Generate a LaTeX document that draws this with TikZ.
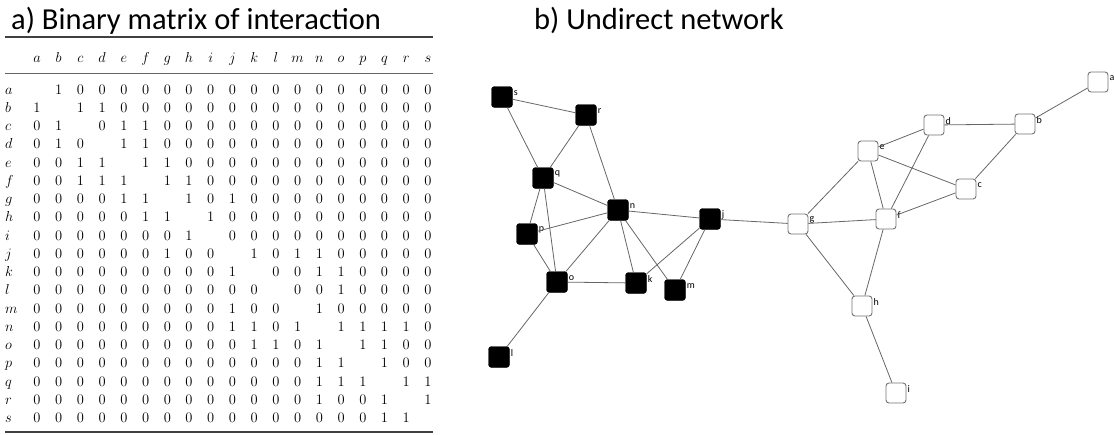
\documentclass[tikz,border=0pt]{standalone}
\usepackage{fontspec}
\newfontfamily\calibri{Carlito}
\usetikzlibrary{positioning}

\tikzset{
	blacknode/.style={draw=black, fill=black, rounded corners=3pt, minimum size=21pt, inner sep=0pt},
	whitenode/.style={draw=black!55, fill=white, rounded corners=3pt, minimum size=20pt, inner sep=0pt, line width=0.9pt},
	nlabel/.style={font=\calibri\fontsize{10}{11}\selectfont, inner sep=1pt, yshift=4pt},
	link/.style={draw=black!60, line width=0.8pt},
	entry/.style={font=\fontsize{14.5}{16}\selectfont, anchor=base, inner sep=0pt},
	tablerule/.style={draw=black!75, line width=1.4pt},
	heading/.style={font=\calibri\fontsize{30.5}{34}\selectfont, anchor=base west, inner sep=0pt}
}

\begin{document}
\begin{tikzpicture}[x=1pt, y=-1pt]
	\useasboundingbox (0,0) rectangle (1114,434);

	% a) matrix
	\node[heading] (titlea) at (11,29) {a) Binary matrix of interaction};
	\draw[tablerule] (5,37) -- (433,37);
	\draw[tablerule, line width=1pt, draw=black!60] (5,73) -- (433,73);
	\draw[tablerule] (5,432) -- (433,432);

	\foreach \rl [count=\i] in {a,b,c,d,e,f,g,h,i,j,k,l,m,n,o,p,q,r,s} {
		\node[entry] (col\rl) at ({37+(\i-1)*21.72},62) {$\rl$};
		\node[entry, anchor=base west] (row\rl) at (5,{94+(\i-1)*18.25}) {$\rl$};
	}

	\foreach \rowdata [count=\i] in {
		{0,1,0,0,0,0,0,0,0,0,0,0,0,0,0,0,0,0,0},
		{1,0,1,1,0,0,0,0,0,0,0,0,0,0,0,0,0,0,0},
		{0,1,0,0,1,1,0,0,0,0,0,0,0,0,0,0,0,0,0},
		{0,1,0,0,1,1,0,0,0,0,0,0,0,0,0,0,0,0,0},
		{0,0,1,1,0,1,1,0,0,0,0,0,0,0,0,0,0,0,0},
		{0,0,1,1,1,0,1,1,0,0,0,0,0,0,0,0,0,0,0},
		{0,0,0,0,1,1,0,1,0,1,0,0,0,0,0,0,0,0,0},
		{0,0,0,0,0,1,1,0,1,0,0,0,0,0,0,0,0,0,0},
		{0,0,0,0,0,0,0,1,0,0,0,0,0,0,0,0,0,0,0},
		{0,0,0,0,0,0,1,0,0,0,1,0,1,1,0,0,0,0,0},
		{0,0,0,0,0,0,0,0,0,1,0,0,0,1,1,0,0,0,0},
		{0,0,0,0,0,0,0,0,0,0,0,0,0,0,1,0,0,0,0},
		{0,0,0,0,0,0,0,0,0,1,0,0,0,1,0,0,0,0,0},
		{0,0,0,0,0,0,0,0,0,1,1,0,1,0,1,1,1,1,0},
		{0,0,0,0,0,0,0,0,0,0,1,1,0,1,0,1,1,0,0},
		{0,0,0,0,0,0,0,0,0,0,0,0,0,1,1,0,1,0,0},
		{0,0,0,0,0,0,0,0,0,0,0,0,0,1,1,1,0,1,1},
		{0,0,0,0,0,0,0,0,0,0,0,0,0,1,0,0,1,0,1},
		{0,0,0,0,0,0,0,0,0,0,0,0,0,0,0,0,1,1,0}}{
		\foreach \val [count=\j] in \rowdata {
			\ifnum\i=\j\relax\else
				\node[entry] (m\i-\j) at ({37+(\j-1)*21.72},{94+(\i-1)*18.25}) {\val};
			\fi
		}
	}

	% b) network
	\node[heading] (titleb) at (534,29) {b) Undirect network};

	\node[blacknode, label={[nlabel]0:s}] (s) at (502,97) {};
	\node[blacknode, label={[nlabel]0:r}] (r) at (586,115) {};
	\node[blacknode, label={[nlabel]0:q}] (q) at (543,178) {};
	\node[blacknode, label={[nlabel]0:n}] (n) at (618,210) {};
	\node[blacknode, label={[nlabel]0:p}] (p) at (527,234) {};
	\node[blacknode, label={[nlabel]0:j}] (j) at (710,219) {};
	\node[blacknode, label={[nlabel]0:o}] (o) at (557,282) {};
	\node[blacknode, label={[nlabel]0:k}] (k) at (636,283) {};
	\node[blacknode, label={[nlabel]0:m}] (m) at (675,290) {};
	\node[blacknode, label={[nlabel]0:l}] (l) at (499,357) {};

	\node[whitenode, label={[nlabel]0:a}] (a) at (1098,82) {};
	\node[whitenode, label={[nlabel]0:b}] (b) at (1025,124) {};
	\node[whitenode, label={[nlabel]0:d}] (d) at (934,125) {};
	\node[whitenode, label={[nlabel]0:e}] (e) at (868,151) {};
	\node[whitenode, label={[nlabel]0:c}] (c) at (966,189) {};
	\node[whitenode, label={[nlabel]0:f}] (f) at (886,219) {};
	\node[whitenode, label={[nlabel]0:g}] (g) at (798,224) {};
	\node[whitenode, label={[nlabel]0:h}] (h) at (862,306) {};
	\node[whitenode, label={[nlabel]0:i}] (i) at (896,393) {};

	\foreach \u/\v in {s/r, s/q, r/q, r/n, q/n, q/p, q/o, p/n, p/o, n/o, n/k, n/m, n/j,
		j/k, j/m, j/g, o/k, o/l, g/e, g/f, g/h, e/d, e/f, e/c, d/f, d/b, b/a, b/c, c/f, f/h, h/i}
		\draw[link] (\u) -- (\v);
\end{tikzpicture}
\end{document}
